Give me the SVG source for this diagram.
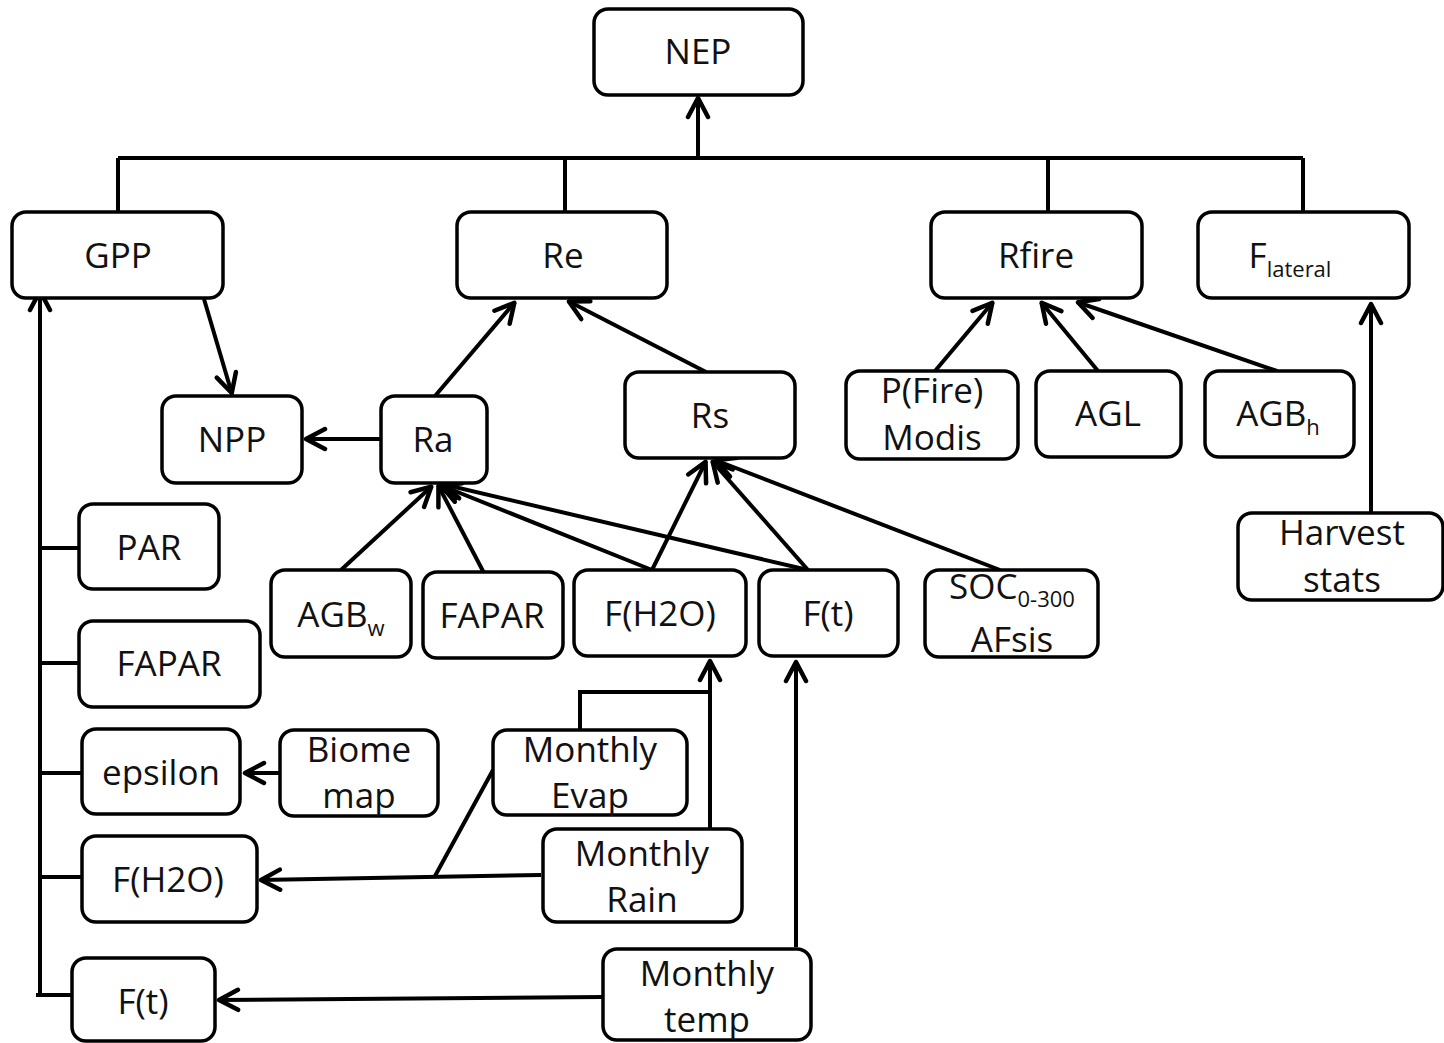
<svg xmlns="http://www.w3.org/2000/svg" width="1444" height="1043" viewBox="0 0 1444 1043">
<style>
.n rect{fill:#fff;stroke:#000;stroke-width:3.5}
text{font-family:"Open Sans","Noto Sans",sans-serif;font-size:35px;fill:#111;text-anchor:middle}
.sub{font-size:22px}
.c path,.c line,.c polyline{fill:none;stroke:#000;stroke-width:4}
</style>
<defs>
<marker id="a" viewBox="0 0 28 28" refX="26" refY="14" markerWidth="28" markerHeight="28" markerUnits="userSpaceOnUse" orient="auto">
<path d="M6,4 L25,14 L6,24" fill="none" stroke="#000" stroke-width="4.5" stroke-linecap="round" stroke-linejoin="round"/>
</marker>
</defs>
<rect width="1444" height="1043" fill="#fff"/>
<g class="c" id="connectors">
<line x1="118" y1="158" x2="1303" y2="158"/>
<line x1="698" y1="158" x2="698" y2="97" marker-end="url(#a)"/>
<line x1="118" y1="158" x2="118" y2="212"/>
<line x1="565" y1="158" x2="565" y2="212"/>
<line x1="1048" y1="158" x2="1048" y2="212"/>
<line x1="1303" y1="158" x2="1303" y2="212"/>
<line x1="204" y1="299" x2="232" y2="394" marker-end="url(#a)"/>
<line x1="435" y1="396" x2="515" y2="302" marker-end="url(#a)"/>
<line x1="706" y1="372" x2="568" y2="301" marker-end="url(#a)"/>
<line x1="381" y1="439" x2="305" y2="439" marker-end="url(#a)"/>
<line x1="341" y1="570" x2="432" y2="486" marker-end="url(#a)"/>
<line x1="484" y1="573" x2="438" y2="485" marker-end="url(#a)"/>
<line x1="652" y1="570" x2="440" y2="485" marker-end="url(#a)"/>
<line x1="808" y1="570" x2="442" y2="484" marker-end="url(#a)"/>
<line x1="652" y1="570" x2="706" y2="461" marker-end="url(#a)"/>
<line x1="808" y1="570" x2="712" y2="461" marker-end="url(#a)"/>
<line x1="1000" y1="570" x2="715" y2="460" marker-end="url(#a)"/>
<line x1="935" y1="371" x2="993" y2="302" marker-end="url(#a)"/>
<line x1="1098" y1="371" x2="1041" y2="302" marker-end="url(#a)"/>
<line x1="1277" y1="371" x2="1077" y2="302" marker-end="url(#a)"/>
<line x1="1371" y1="513" x2="1371" y2="303" marker-end="url(#a)"/>
<line x1="40" y1="995" x2="40" y2="290" marker-end="url(#a)"/>
<line x1="40" y1="548" x2="79" y2="548"/>
<line x1="40" y1="663" x2="79" y2="663"/>
<line x1="40" y1="773" x2="82" y2="773"/>
<line x1="40" y1="877" x2="82" y2="877"/>
<line x1="36" y1="995" x2="72" y2="995"/>
<line x1="280" y1="773" x2="244" y2="773" marker-end="url(#a)"/>
<line x1="541" y1="875" x2="260" y2="880" marker-end="url(#a)"/>
<line x1="493" y1="770" x2="435" y2="876"/>
<polyline points="580,730 580,692 710,692"/>
<line x1="710" y1="829" x2="710" y2="660" marker-end="url(#a)"/>
<line x1="796" y1="947" x2="796" y2="661" marker-end="url(#a)"/>
<line x1="603" y1="997" x2="218" y2="1000" marker-end="url(#a)"/>
</g>
<g class="n" id="NEP"><rect x="594" y="9" width="209" height="86" rx="14"/><text x="698" y="64">NEP</text></g>
<g class="n" id="GPP"><rect x="12" y="212" width="211" height="86" rx="14"/><text x="118" y="268">GPP</text></g>
<g class="n" id="Re"><rect x="457" y="212" width="210" height="86" rx="14"/><text x="563" y="268">Re</text></g>
<g class="n" id="Rfire"><rect x="931" y="212" width="211" height="86" rx="14"/><text x="1036" y="268">Rfire</text></g>
<g class="n" id="Flateral"><rect x="1198" y="212" width="211" height="86" rx="14"/><text x="1290" y="268">F<tspan class="sub" dy="9">lateral</tspan></text></g>
<g class="n" id="NPP"><rect x="162" y="396" width="140" height="87" rx="14"/><text x="232" y="452">NPP</text></g>
<g class="n" id="Ra"><rect x="381" y="396" width="106" height="87" rx="14"/><text x="433" y="452">Ra</text></g>
<g class="n" id="Rs"><rect x="625" y="372" width="170" height="86" rx="14"/><text x="710" y="428">Rs</text></g>
<g class="n" id="PFire"><rect x="846" y="371" width="172" height="88" rx="14"/><text x="932" y="403">P(Fire)</text><text x="932" y="450">Modis</text></g>
<g class="n" id="AGL"><rect x="1036" y="371" width="145" height="86" rx="14"/><text x="1108" y="426">AGL</text></g>
<g class="n" id="AGBh"><rect x="1205" y="371" width="149" height="86" rx="14"/><text x="1278" y="426">AGB<tspan class="sub" dy="9">h</tspan></text></g>
<g class="n" id="Harvest"><rect x="1238" y="513" width="205" height="87" rx="14"/><text x="1342" y="545">Harvest</text><text x="1342" y="592">stats</text></g>
<g class="n" id="PAR"><rect x="79" y="504" width="140" height="85" rx="14"/><text x="149" y="560">PAR</text></g>
<g class="n" id="FAPAR1"><rect x="79" y="621" width="181" height="86" rx="14"/><text x="169" y="676">FAPAR</text></g>
<g class="n" id="epsilon"><rect x="82" y="729" width="158" height="85" rx="14"/><text x="161" y="785">epsilon</text></g>
<g class="n" id="Biome"><rect x="280" y="730" width="158" height="86" rx="14"/><text x="359" y="762">Biome</text><text x="359" y="808">map</text></g>
<g class="n" id="FH2O1"><rect x="82" y="836" width="175" height="86" rx="14"/><text x="168" y="892">F(H2O)</text></g>
<g class="n" id="Ft1"><rect x="72" y="958" width="143" height="83" rx="14"/><text x="143" y="1014">F(t)</text></g>
<g class="n" id="Evap"><rect x="493" y="730" width="194" height="85" rx="14"/><text x="590" y="762">Monthly</text><text x="590" y="808">Evap</text></g>
<g class="n" id="Rain"><rect x="543" y="829" width="199" height="93" rx="14"/><text x="642" y="866">Monthly</text><text x="642" y="912">Rain</text></g>
<g class="n" id="Temp"><rect x="603" y="949" width="208" height="91" rx="14"/><text x="707" y="986">Monthly</text><text x="707" y="1032">temp</text></g>
<g class="n" id="AGBw"><rect x="271" y="570" width="140" height="87" rx="14"/><text x="341" y="627">AGB<tspan class="sub" dy="9">w</tspan></text></g>
<g class="n" id="FAPAR2"><rect x="423" y="572" width="140" height="86" rx="14"/><text x="492" y="628">FAPAR</text></g>
<g class="n" id="FH2O2"><rect x="574" y="570" width="172" height="86" rx="14"/><text x="660" y="626">F(H2O)</text></g>
<g class="n" id="Ft2"><rect x="759" y="570" width="139" height="86" rx="14"/><text x="828" y="626">F(t)</text></g>
<g class="n" id="SOC"><rect x="925" y="570" width="173" height="87" rx="14"/><text x="1012" y="599">SOC<tspan class="sub" dy="8">0-300</tspan></text><text x="1012" y="652">AFsis</text></g>
</svg>
